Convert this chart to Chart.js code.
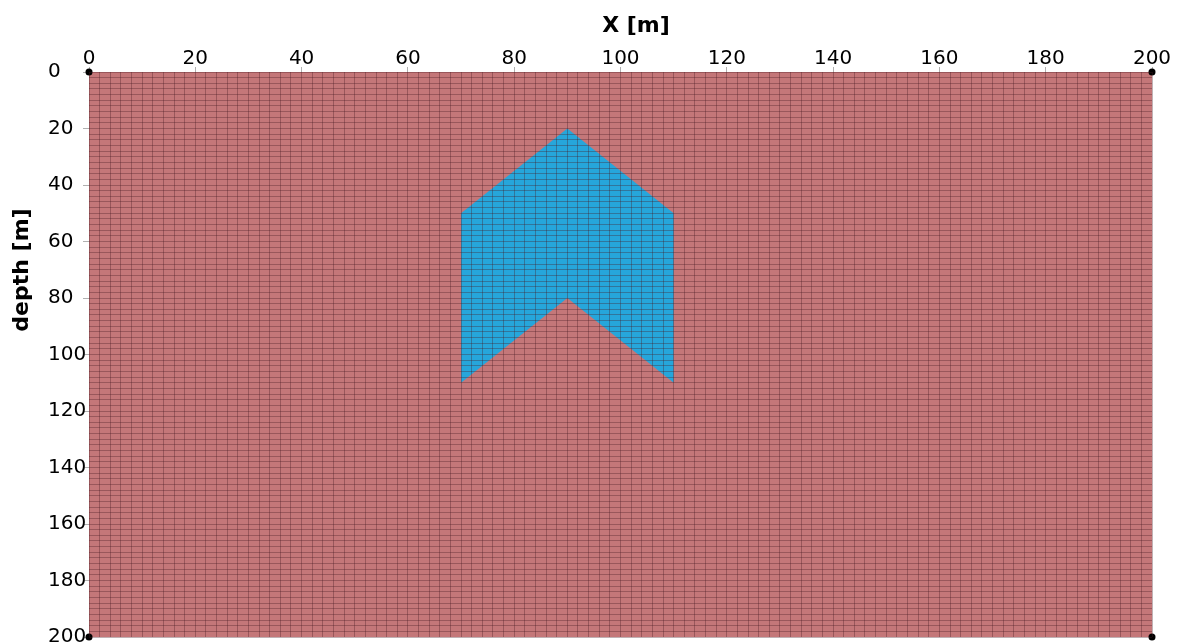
<!DOCTYPE html>
<html>
<head>
<meta charset="utf-8">
<script src="https://cdn.jsdelivr.net/npm/chart.js@4.4.1/dist/chart.umd.min.js"></script>
<style>
  html, body { margin: 0; padding: 0; background: #ffffff; }
  #wrap { width: 1183px; height: 644px; position: relative; }
</style>
</head>
<body>
<div id="wrap"><canvas id="c" width="1183" height="644"></canvas></div>
<script>
// Model domain (metres)
const domainX = [0, 200, 200, 0];
const domainZ = [0, 0, 200, 200];

// Anomalous body: chevron-shaped inclusion
const bodyX = [70, 90, 110, 110, 90, 70];
const bodyZ = [50, 20, 50, 110, 80, 110];

// Mesh cell size and axis ticks
const meshStep = 2;
const tickStep = 20;
const axisMin = 0;
const axisMax = 200;

const toPoints = (xs, zs) => xs.map((x, i) => ({ x: x, y: zs[i] }));

const FONT = "'DejaVu Sans', sans-serif";

// Axis titles placed at fixed spots in the layout
const axisTitles = {
  id: 'axisTitles',
  afterDraw(chart) {
    const ctx = chart.ctx;
    ctx.save();
    ctx.fillStyle = '#000';
    ctx.font = "bold 22px " + FONT;
    ctx.textAlign = 'center';
    ctx.textBaseline = 'middle';
    ctx.fillText('X [m]', 636, 26);
    ctx.translate(22, 270);
    ctx.rotate(-Math.PI / 2);
    ctx.fillText('depth [m]', 0, 0);
    ctx.restore();
  }
};

const meshGrid = { display: true, drawTicks: false, color: 'rgba(70,25,35,0.34)', lineWidth: 1, z: 1 };

new Chart(document.getElementById('c'), {
  type: 'scatter',
  data: {
    datasets: [
      {
        label: 'domain',
        data: toPoints(domainX, domainZ),
        showLine: true,
        fill: 'shape',
        backgroundColor: 'rgb(196,119,121)',
        borderWidth: 0,
        pointRadius: 0,
        order: 3
      },
      {
        label: 'body',
        data: toPoints(bodyX, bodyZ),
        showLine: true,
        fill: 'shape',
        backgroundColor: 'rgb(38,166,219)',
        borderWidth: 0,
        pointRadius: 0,
        order: 2
      },
      {
        label: 'corners',
        data: toPoints(domainX, domainZ),
        showLine: false,
        clip: false,
        pointRadius: 3.5,
        pointBackgroundColor: '#000',
        pointBorderWidth: 0,
        order: 1
      }
    ]
  },
  options: {
    responsive: false,
    animation: false,
    events: [],
    layout: { padding: { left: 48, right: 31, top: 0, bottom: 7 } },
    plugins: {
      legend: { display: false },
      tooltip: { enabled: false },
      filler: { propagate: false }
    },
    elements: { line: { tension: 0 } },
    scales: {
      x: {
        type: 'linear',
        position: 'top',
        min: axisMin, max: axisMax,
        ticks: {
          stepSize: tickStep,
          color: '#000',
          font: { family: FONT, size: 20 },
          padding: -4,
          maxRotation: 0,
          autoSkip: false
        },
        grid: { display: true, drawOnChartArea: false, drawTicks: true, tickLength: 5, color: '#b0b0b0' },
        border: { display: false },
        afterFit(s) { s.height = 72; s.paddingLeft = 0; s.paddingRight = 0; }
      },
      y: {
        type: 'linear',
        position: 'left',
        reverse: true,
        min: axisMin, max: axisMax,
        ticks: {
          stepSize: tickStep,
          color: '#000',
          font: { family: FONT, size: 20 },
          crossAlign: 'far',
          autoSkip: false
        },
        grid: { display: true, drawOnChartArea: false, drawTicks: true, tickLength: 6, color: '#b0b0b0' },
        border: { display: false },
        afterFit(s) { s.width = 41; s.paddingTop = 0; s.paddingBottom = 0; }
      },
      xMesh: {
        type: 'linear',
        position: 'bottom',
        axis: 'x',
        min: axisMin, max: axisMax,
        ticks: { display: false, stepSize: meshStep },
        grid: meshGrid,
        border: { display: false },
        afterFit(s) { s.height = 0; }
      },
      yMesh: {
        type: 'linear',
        position: 'right',
        axis: 'y',
        reverse: true,
        min: axisMin, max: axisMax,
        ticks: { display: false, stepSize: meshStep },
        grid: meshGrid,
        border: { display: false },
        afterFit(s) { s.width = 0; }
      }
    }
  },
  plugins: [axisTitles]
});
</script>
</body>
</html>
